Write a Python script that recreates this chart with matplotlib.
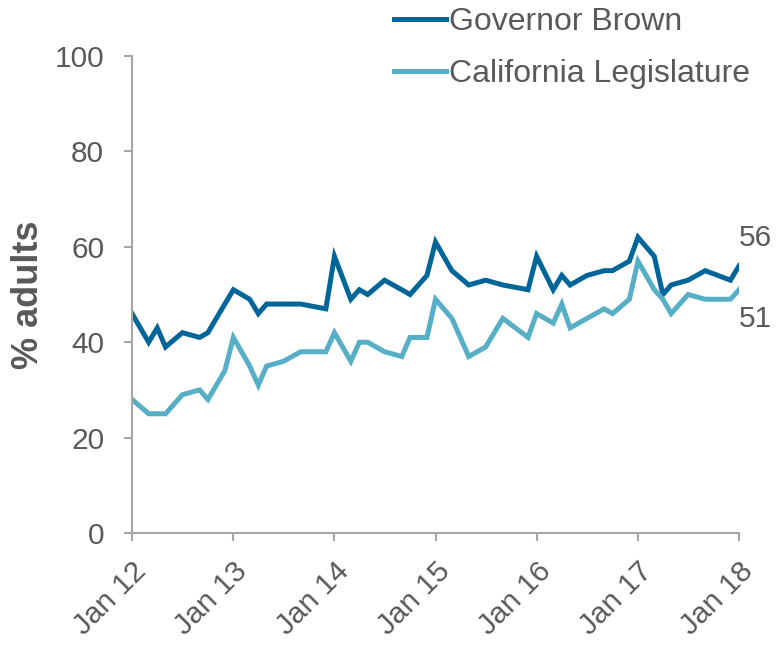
import matplotlib
matplotlib.use("Agg")
import matplotlib.pyplot as plt
import pandas as pd

plt.rcParams["font.family"] = ["Liberation Sans", "DejaVu Sans"]

dates = [
    "2012-01", "2012-03", "2012-04", "2012-05", "2012-07", "2012-09", "2012-10", "2012-12",
    "2013-01", "2013-03", "2013-04", "2013-05", "2013-07", "2013-09", "2013-12",
    "2014-01", "2014-03", "2014-04", "2014-05", "2014-07", "2014-09", "2014-10", "2014-12",
    "2015-01", "2015-03", "2015-05", "2015-07", "2015-09", "2015-12",
    "2016-01", "2016-03", "2016-04", "2016-05", "2016-07", "2016-09", "2016-10", "2016-12",
    "2017-01", "2017-03", "2017-04", "2017-05", "2017-07", "2017-09", "2017-12",
    "2018-01",
]
governor = [
    46, 40, 43, 39, 42, 41, 42, 48,
    51, 49, 46, 48, 48, 48, 47,
    58, 49, 51, 50, 53, 51, 50, 54,
    61, 55, 52, 53, 52, 51,
    58, 51, 54, 52, 54, 55, 55, 57,
    62, 58, 50, 52, 53, 55, 53,
    56,
]
legislature = [
    28, 25, 25, 25, 29, 30, 28, 34,
    41, 35, 31, 35, 36, 38, 38,
    42, 36, 40, 40, 38, 37, 41, 41,
    49, 45, 37, 39, 45, 41,
    46, 44, 48, 43, 45, 47, 46, 49,
    57, 51, 49, 46, 50, 49, 49,
    51,
]
tick_years = [2012, 2013, 2014, 2015, 2016, 2017, 2018]
tick_labels = ["Jan 12", "Jan 13", "Jan 14", "Jan 15", "Jan 16", "Jan 17", "Jan 18"]

x = pd.to_datetime(dates)
text_col = "#595959"
axis_col = "#A6A6A6"
gov_col = "#006699"
leg_col = "#56AFC6"

fig = plt.figure(figsize=(7.78, 6.46), dpi=100)
fig.patch.set_facecolor("white")
ax = fig.add_axes([0.1697, 0.1749, 0.7802, 0.7384])

ax.plot(x, governor, color=gov_col, linewidth=3.6, label="Governor Brown", solid_joinstyle="miter")
ax.plot(x, legislature, color=leg_col, linewidth=3.6, label="California Legislature", solid_joinstyle="miter")

ax.set_ylim(0, 100)
ax.set_yticks(range(0, 101, 20))
ax.set_xlim(pd.Timestamp("2012-01-01"), pd.Timestamp("2018-01-01"))
ax.set_xticks([pd.Timestamp(f"{y}-01-01") for y in tick_years])
ax.set_xticklabels(tick_labels, rotation=45, ha="right", rotation_mode="anchor")

for s in ["top", "right"]:
    ax.spines[s].set_visible(False)
for s in ["left", "bottom"]:
    ax.spines[s].set_color(axis_col)
    ax.spines[s].set_linewidth(1.5)
ax.tick_params(axis="both", colors=axis_col, width=1.5, length=6, labelcolor=text_col, labelsize=21.5)
ax.tick_params(axis="y", pad=14)
ax.tick_params(axis="x", pad=11)

ax.set_ylabel("% adults", fontsize=26, fontweight="bold", color=text_col, labelpad=6)

ax.annotate(str(governor[-1]), xy=(x[-1], governor[-1]), xytext=(0, 20), textcoords="offset points",
            ha="left", va="center", fontsize=21.5, color=text_col, annotation_clip=False)
ax.annotate(str(legislature[-1]), xy=(x[-1], legislature[-1]), xytext=(0, -21), textcoords="offset points",
            ha="left", va="center", fontsize=21.5, color=text_col, annotation_clip=False)

fig.legend(loc="upper left", bbox_to_anchor=(0.507, 0.989), frameon=False, fontsize=23,
           handlelength=1.6, handletextpad=0.1, labelspacing=0.7, borderpad=0, borderaxespad=0,
           labelcolor=text_col)

fig.savefig("out.png", dpi=100)
